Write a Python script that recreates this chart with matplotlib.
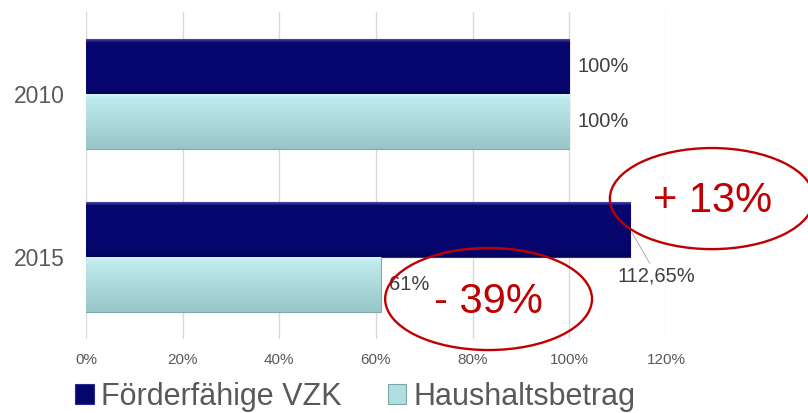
import matplotlib
matplotlib.use('Agg')
from matplotlib import pyplot as plt
from matplotlib.patches import Ellipse
from matplotlib.colors import LinearSegmentedColormap
import numpy as np

plt.rcParams['font.family'] = ['Liberation Sans', 'DejaVu Sans']

# Daten
jahre = ['2010', '2015']
vzk = [1.00, 1.1265]
haushalt = [1.00, 0.61]
vzk_labels = ['100%', '112,65%']
haushalt_labels = ['100%', '61%']
serien = ['Förderfähige VZK', 'Haushaltsbetrag']
x_ticks = [0, 0.2, 0.4, 0.6, 0.8, 1.0, 1.2]
x_ticklabels = ['0%', '20%', '40%', '60%', '80%', '100%', '120%']

dunkel = '#05056E'
hell = '#B0DFE1'
grau = '#595959'
rot = '#C00000'

fig = plt.figure(figsize=(8.08, 4.13), dpi=100)
ax = fig.add_axes([0.1064, 0.179, 0.7178, 0.792])

y = np.arange(len(jahre))
h = 0.336

bars1 = ax.barh(y - h / 2, vzk, height=h, color=dunkel, edgecolor='#2A2A8A', linewidth=0.8, zorder=3)
bars2 = ax.barh(y + h / 2, haushalt, height=h, color=hell, edgecolor='#7FA6A8', linewidth=0.8, zorder=3)

# Verlauf in den Balken
def verlauf(bars, farben):
    cmap = LinearSegmentedColormap.from_list('v', farben)
    grad = np.linspace(0, 1, 128).reshape(-1, 1)
    for b in bars:
        x0, y0 = b.get_x(), b.get_y()
        w, hh = b.get_width(), b.get_height()
        im = ax.imshow(grad, cmap=cmap, aspect='auto', extent=(x0, x0 + w, y0 + hh, y0),
                       zorder=3.5, interpolation='bilinear')
        im.set_clip_path(b)

verlauf(bars1, [(0, '#4848A8'), (0.06, '#07076F'), (0.9, '#05056D'), (1, '#03035E')])
verlauf(bars2, [(0, '#D2F4F5'), (0.08, '#BFEBED'), (1, '#98C5C7')])

ax.set_xlim(0, 1.2)
ax.set_ylim(1.5, -0.5)
ax.set_xticks(x_ticks)
ax.set_xticklabels(x_ticklabels, fontsize=11, color=grau)
ax.set_yticks(y)
ax.set_yticklabels(jahre, fontsize=16.5, color=grau)
ax.tick_params(length=0)
ax.tick_params(axis='y', pad=15)
ax.tick_params(axis='x', pad=10)
ax.grid(axis='x', color='#D9D9D9', linewidth=1, zorder=0)
for s in ax.spines.values():
    s.set_visible(False)

# Werte
for i in range(len(jahre)):
    if i == 1:
        ax.annotate(vzk_labels[i], xy=(vzk[i], y[i] - h / 2), xytext=(19, -33),
                    textcoords='offset points', ha='center', va='center',
                    fontsize=14.5, color='#404040',
                    arrowprops=dict(arrowstyle='-', color='#A0A0A0', lw=0.6,
                                    shrinkA=0, shrinkB=2))
    else:
        ax.annotate(vzk_labels[i], xy=(vzk[i], y[i] - h / 2), xytext=(6, 0),
                    textcoords='offset points', ha='left', va='center',
                    fontsize=14.5, color='#404040')
    ax.annotate(haushalt_labels[i], xy=(haushalt[i], y[i] + h / 2), xytext=(6, 0),
                textcoords='offset points', ha='left', va='center',
                fontsize=14.5, color='#404040', zorder=5)

# Markierungen
ax.add_patch(Ellipse((1.295, 0.641), 0.422, 0.618, fill=False, edgecolor=rot,
                     linewidth=1.7, clip_on=False, zorder=6))
ax.text(1.297, 0.656, '+ 13%', fontsize=30, color=rot, ha='center', va='center',
        clip_on=False, zorder=6)
ax.add_patch(Ellipse((0.833, 1.255), 0.428, 0.624, fill=False, edgecolor=rot,
                     linewidth=1.7, clip_on=False, zorder=6))
ax.text(0.832, 1.274, '- 39%', fontsize=30, color=rot, ha='center', va='center',
        clip_on=False, zorder=6)

leg = fig.legend([bars1, bars2], serien, loc='center', bbox_to_anchor=(0.44, 0.039),
                 ncol=2, frameon=False, fontsize=22, labelcolor=grau,
                 handlelength=0.6, handleheight=0.6, handletextpad=0.25,
                 columnspacing=1.5, borderpad=0, borderaxespad=0)

fig.savefig('out.png', dpi=100)
